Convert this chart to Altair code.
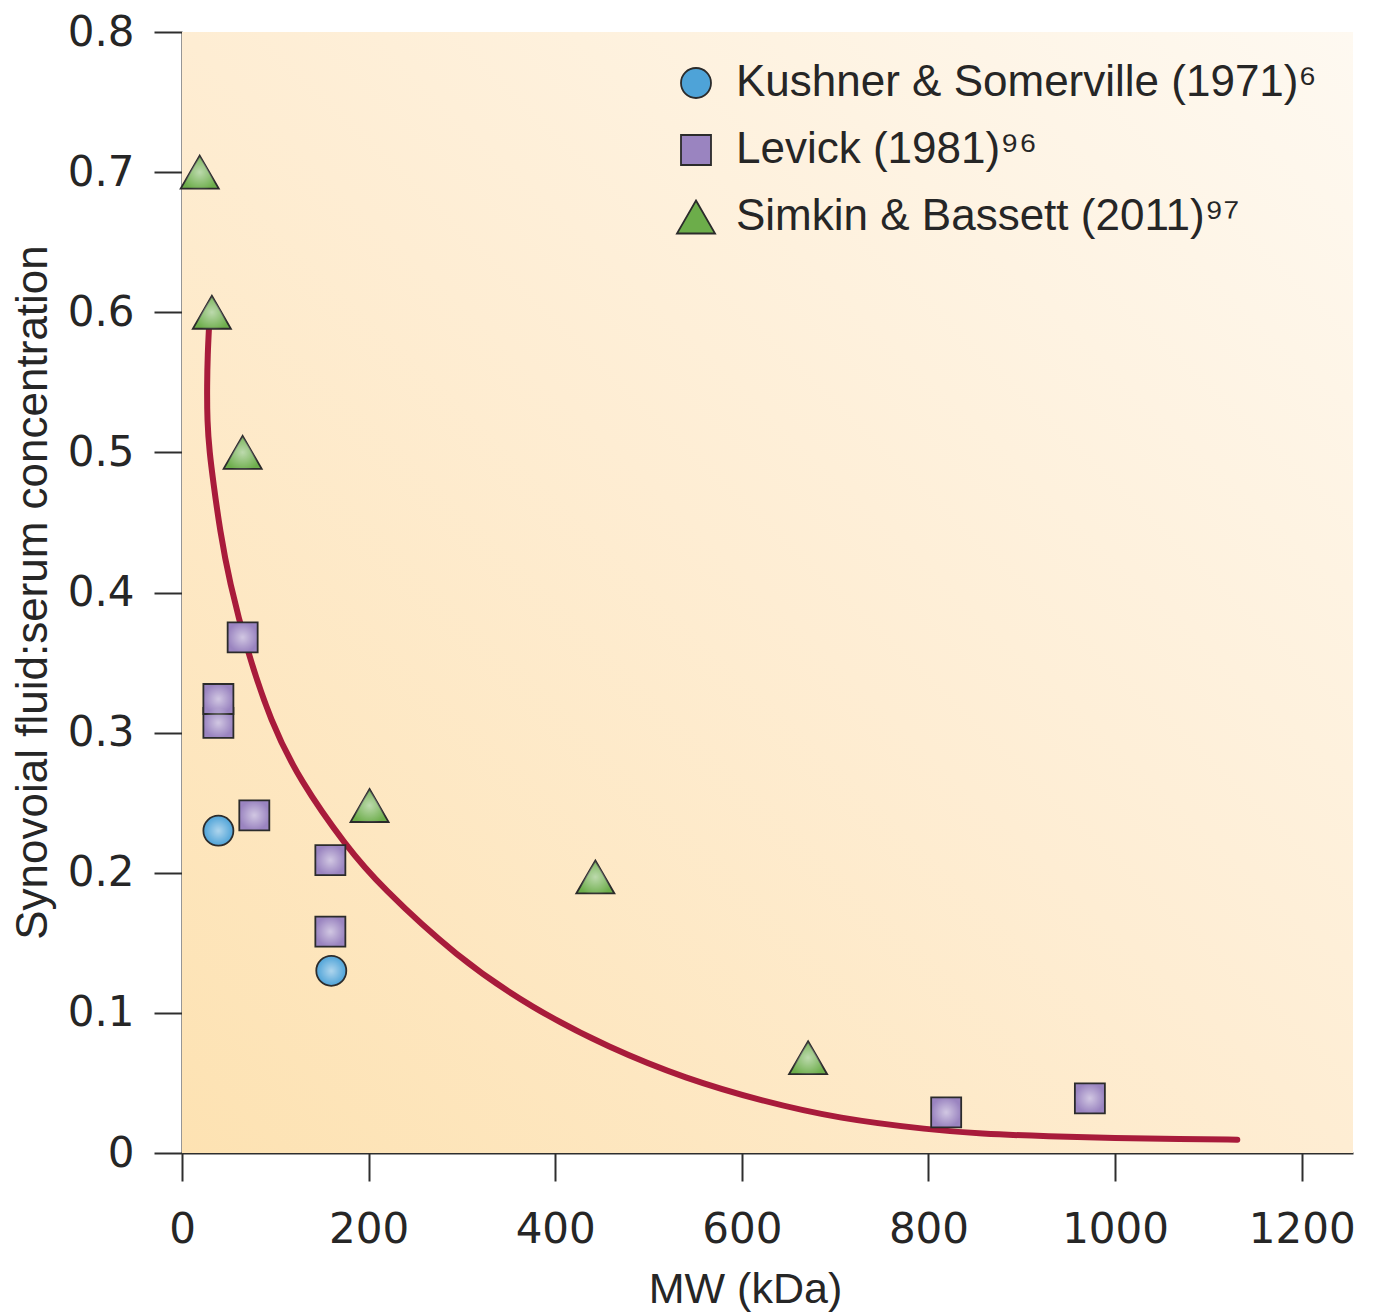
import altair as alt
import pandas as pd

# ---- data ----
X_MAX = 1255
Y_MAX = 0.8
x_ticks = [0, 200, 400, 600, 800, 1000, 1200]
y_ticks = [0, 0.1, 0.2, 0.3, 0.4, 0.5, 0.6, 0.7, 0.8]

series_names = [
    "Kushner & Somerville (1971)⁶",
    "Levick (1981)⁹⁶",
    "Simkin & Bassett (2011)⁹⁷",
]
series_fill = ["#4ea3d8", "#9a84c0", "#6cad4a"]
# circle, square, and a slightly enlarged upward triangle (custom unit path)
series_shape = ["circle", "square", "M0,-1.1L1.27,1.1L-1.27,1.1Z"]
series_edge = ["#2b2b2b", "#2b2b2b", "#2b2b2b"]

kushner_mw = [39, 160]
kushner_ratio = [0.230, 0.130]

levick_mw = [65, 39, 39, 77.5, 159, 159, 819, 973]
levick_ratio = [0.368, 0.307, 0.324, 0.241, 0.209, 0.158, 0.029, 0.039]

simkin_mw = [19, 32, 65, 201, 443, 671]
simkin_ratio = [0.700, 0.600, 0.500, 0.248, 0.197, 0.068]

curve_mw = [29, 27.5, 26.8, 27, 29.5, 33.5, 40.7, 50.7, 70, 95, 126, 177, 212,
            294, 376, 458, 540, 622, 704, 803, 854, 930, 1000, 1070, 1131]
curve_ratio = [0.590, 0.570, 0.548, 0.522, 0.500, 0.479, 0.444, 0.408, 0.358,
               0.308, 0.266, 0.218, 0.191, 0.140, 0.103, 0.075, 0.053, 0.037,
               0.0245, 0.0165, 0.0138, 0.0118, 0.0106, 0.0099, 0.0095]

# ---- tables ----
rows = []
for name, xs, ys in [(series_names[0], kushner_mw, kushner_ratio),
                     (series_names[1], levick_mw, levick_ratio),
                     (series_names[2], simkin_mw, simkin_ratio)]:
    for xv, yv in zip(xs, ys):
        rows.append({"series": name, "mw": xv, "ratio": yv})
points_df = pd.DataFrame(rows)

curve_df = pd.DataFrame({"mw": curve_mw, "ratio": curve_ratio,
                         "i": list(range(len(curve_mw)))})

bg_df = pd.DataFrame({"mw": [0], "mw_end": [X_MAX], "ratio": [0], "ratio_end": [Y_MAX]})

# ---- styles ----
AX = "#2e2e2e"
TXT = "#262626"

x_enc = alt.X(
    "mw:Q",
    scale=alt.Scale(domain=[0, X_MAX], nice=False, zero=True),
    axis=alt.Axis(
        values=x_ticks, format="d", title="MW (kDa)", grid=False,
        domainColor=AX, domainWidth=2, tickColor=AX, tickWidth=2, tickSize=28,
        labelFont="DejaVu Sans", labelFontSize=42, labelColor=TXT,
        labelPadding=28, labelFlush=False, labelOverlap=False,
        titleFont="Liberation Sans", titleFontSize=43, titleColor=TXT,
        titleFontWeight="normal", titleX=563, titleY=149,
        titleBaseline="alphabetic", titleAlign="center",
    ),
)
y_enc = alt.Y(
    "ratio:Q",
    scale=alt.Scale(domain=[0, Y_MAX], nice=False, zero=True),
    axis=alt.Axis(
        values=y_ticks, title="Synovoial fluid:serum concentration", grid=False,
        labelExpr="datum.value == 0 ? '0' : format(datum.value, '.1f')",
        domainColor=AX, domainWidth=2, tickColor=AX, tickWidth=2, tickSize=28,
        labelFont="DejaVu Sans", labelFontSize=42, labelColor=TXT,
        labelPadding=20, labelFlush=False, labelOverlap=False,
        titleFont="Liberation Sans", titleFontSize=44, titleColor=TXT,
        titleFontWeight="normal", titleAngle=270, titleX=-136, titleY=560,
        titleBaseline="alphabetic", titleAlign="center",
    ),
)

bg_gradient = alt.LinearGradient(
    gradient="linear",
    stops=[alt.GradientStop(color="#fde2b2", offset=0),
           alt.GradientStop(color="#feedd3", offset=0.5),
           alt.GradientStop(color="#fef9f1", offset=1)],
    x1=0, y1=1, x2=1, y2=0,
)

background = alt.Chart(bg_df).mark_rect(fill=bg_gradient, stroke=None).encode(
    x=x_enc, x2="mw_end:Q", y=y_enc, y2="ratio_end:Q"
)

curve = alt.Chart(curve_df).mark_line(
    color="#a81b3b", strokeWidth=6, interpolate="basis", strokeCap="round"
).encode(x=x_enc, y=y_enc, order="i:Q")

legend = alt.Legend(
    title=None, orient="none", legendX=492, legendY=29, padding=0,
    labelFont="Liberation Sans", labelFontSize=44, labelColor=TXT,
    labelLimit=1000, labelOffset=18, rowPadding=23, symbolSize=900,
    symbolStrokeWidth=1.8, symbolOpacity=1,
)

points = alt.Chart(points_df).mark_point(
    filled=True, strokeWidth=1.8, opacity=1, size=900
).encode(
    x=x_enc, y=y_enc,
    fill=alt.Fill("series:N", scale=alt.Scale(domain=series_names, range=series_fill), legend=legend),
    shape=alt.Shape("series:N", scale=alt.Scale(domain=series_names, range=series_shape), legend=legend),
    stroke=alt.Stroke("series:N", scale=alt.Scale(domain=series_names, range=series_edge), legend=legend),
)

shine = alt.RadialGradient(
    gradient="radial",
    stops=[alt.GradientStop(color="rgba(255,255,255,0.55)", offset=0),
           alt.GradientStop(color="rgba(255,255,255,0.0)", offset=1)],
    x1=0.5, y1=0.5, r1=0, x2=0.5, y2=0.5, r2=0.5,
)

highlight = alt.Chart(points_df).mark_point(
    filled=True, fill=shine, strokeWidth=0, opacity=1, size=900
).encode(
    x=x_enc, y=y_enc,
    shape=alt.Shape("series:N", scale=alt.Scale(domain=series_names, range=series_shape), legend=None),
)

chart = alt.layer(background, curve, points, highlight).properties(
    width=1171, height=1121,
    autosize=alt.AutoSizeParams(type="none"),
    padding={"left": 174, "top": 24, "right": 17, "bottom": 162},
    background="white",
).configure_view(stroke=None)

chart.save("out.html", embed_options={"renderer": "svg", "actions": False})
